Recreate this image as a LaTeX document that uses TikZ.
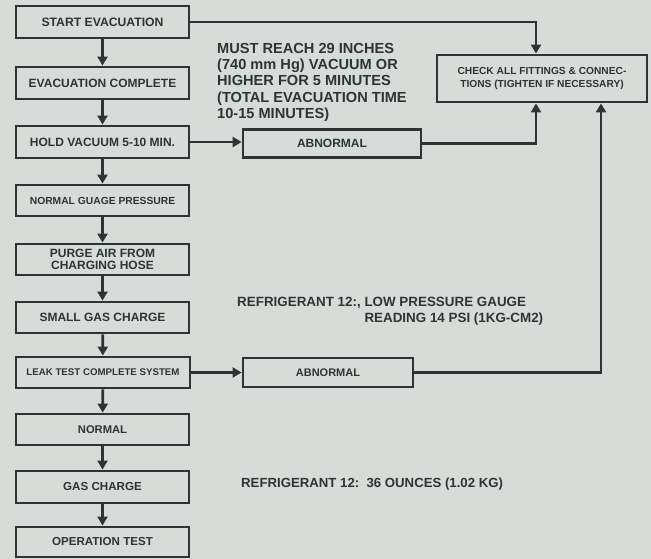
\documentclass[tikz,border=0pt]{standalone}
\usepackage{fontspec}
\setmainfont{Liberation Sans}
\usetikzlibrary{arrows.meta}
\definecolor{ink}{HTML}{2E3436}
\definecolor{paper}{HTML}{D8DCD9}
\newcommand{\fsz}[1]{\fontsize{#1}{#1}\selectfont}
\newcommand{\fszl}[2]{\fontsize{#1}{#2}\selectfont}
\begin{document}
\begin{tikzpicture}[x=1pt,y=-1pt,
 box/.style={draw=ink, line width=2.8pt, inner sep=0pt, text=ink, align=center, minimum width=173pt},
 link/.style={draw=ink, line width=2.8pt, -{Triangle[length=9pt,width=10pt]}},
 note/.style={text=ink, inner sep=0pt, align=left, anchor=north west}]
\fill[paper] (0,0) rectangle (651,559);
\useasboundingbox (0,0) rectangle (651,559);

\node[box, minimum height=32pt, font={\bfseries\fsz{12.2}}] (start) at (102.5,22) {START EVACUATION};
\node[box, minimum height=32pt, font={\bfseries\fsz{12}}] (evc) at (102.5,83) {EVACUATION COMPLETE};
\node[box, minimum height=32pt, font={\bfseries\fsz{12}}] (hold) at (102.5,142) {HOLD VACUUM 5-10 MIN.};
\node[box, minimum height=31pt, font={\bfseries\fsz{10.3}}] (ngp) at (102.5,200.5) {NORMAL GUAGE PRESSURE};
\node[box, minimum height=31pt, font={\bfseries\fszl{12}{12.5}}] (purge) at (102.5,259.5) {PURGE AIR FROM\\CHARGING HOSE};
\node[box, minimum height=31pt, font={\bfseries\fsz{12}}] (small) at (102.5,317.5) {SMALL GAS CHARGE};
\node[box, minimum height=31pt, minimum width=174pt, font={\bfseries\fsz{9.7}}] (leak) at (103,372.5) {LEAK TEST COMPLETE SYSTEM};
\node[box, minimum height=31pt, font={\bfseries\fsz{11.2}}] (normal) at (102.5,429.5) {NORMAL};
\node[box, minimum height=32pt, font={\bfseries\fsz{11.6}}] (gas) at (102.5,487) {GAS CHARGE};
\node[box, minimum height=30pt, font={\bfseries\fsz{11.6}}] (op) at (102.5,542) {OPERATION TEST};

\node[box, minimum height=28pt, minimum width=178pt, font={\bfseries\fsz{12}}] (abn1) at (332,143.5) {ABNORMAL};
\node[box, minimum height=29pt, minimum width=170pt, font={\bfseries\fsz{11}}] (abn2) at (328,372.5) {ABNORMAL};
\node[box, minimum height=47pt, minimum width=210pt, font={\bfseries\fszl{10.2}{13}}] (check) at (542,78.5) {CHECK ALL FITTINGS \& CONNEC-\\TIONS (TIGHTEN IF NECESSARY)};

\node[note, font={\bfseries\fszl{14.6}{16.3}}] (n1) at (217,43) {MUST REACH 29 INCHES\\(740 mm Hg) VACUUM OR\\HIGHER FOR 5 MINUTES\\(TOTAL EVACUATION TIME\\10-15 MINUTES)};
\node[note, font={\bfseries\fszl{13.4}{15.5}}] (n2) at (237,297) {REFRIGERANT 12:, LOW PRESSURE GAUGE\\\phantom{REFRIGERANT 12:, }READING 14 PSI (1KG-CM2)};
\node[note, font={\bfseries\fsz{13.2}}] (n3) at (241,478) {REFRIGERANT 12:\ \ 36 OUNCES (1.02 KG)};

\draw[link] (start) -- (evc);
\draw[link] (evc) -- (hold);
\draw[link] (hold) -- (ngp);
\draw[link] (ngp) -- (purge);
\draw[link] (purge) -- (small);
\draw[link] (small) -- (leak);
\draw[link] (leak) -- (normal);
\draw[link] (normal) -- (gas);
\draw[link] (gas) -- (op);

\draw[link] (hold.east) -- (hold.east -| abn1.west);
\draw[link] (leak.east) -- (leak.east -| abn2.west);

\coordinate (ca) at (536,0);
\coordinate (cb) at (601,0);
\draw[link] (start.east) -| (ca |- check.north);
\draw[link] (abn1.east) -| (ca |- check.south);
\draw[link] (abn2.east) -| (cb |- check.south);
\end{tikzpicture}
\end{document}
